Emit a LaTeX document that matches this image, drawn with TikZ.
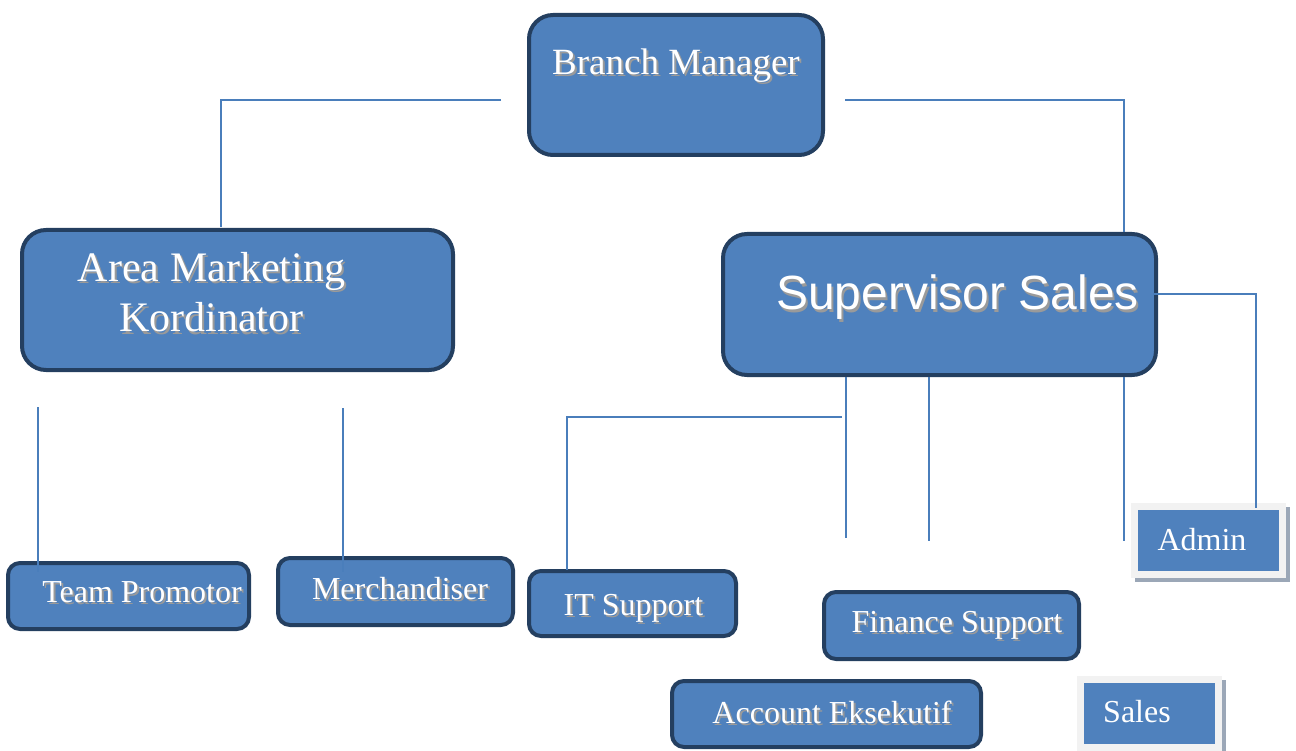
\documentclass[tikz,border=0pt]{standalone}
\usepackage{fontspec}
\setmainfont{Liberation Serif}
\setsansfont{Liberation Sans}
\definecolor{boxfill}{HTML}{4F81BD}
\definecolor{boxline}{HTML}{243F60}
\definecolor{linkblue}{HTML}{4A7EBB}
\definecolor{framegray}{HTML}{F2F2F2}
\definecolor{shadowgray}{HTML}{9BA7B7}
\definecolor{txtshade}{HTML}{9A9A9A}
\newcommand{\shadowed}[1]{\makebox[0pt][l]{\kern2pt\raisebox{-2pt}{\color{txtshade}#1}}#1}

\begin{document}
\begin{tikzpicture}[x=1pt,y=-1pt]
\useasboundingbox (0,0) rectangle (1296,751);
\tikzstyle{box}=[draw=boxline, fill=boxfill, line width=4pt, rounded corners=12pt, inner sep=0pt]
\tikzstyle{bigbox}=[box, rounded corners=24pt]
\tikzstyle{plainbox}=[draw=framegray, fill=boxfill, line width=7pt, inner sep=0pt]
\tikzstyle{shadowbox}=[fill=shadowgray, inner sep=0pt]
\tikzstyle{txt}=[text=white, inner sep=0pt, anchor=base]
\tikzstyle{link}=[draw=linkblue, line width=1.6pt]

\node[bigbox, minimum width=294pt, minimum height=140pt](bm) at (676,85){};
\node[bigbox, minimum width=431pt, minimum height=140pt](amk) at (237.5,300){};
\node[bigbox, minimum width=433pt, minimum height=141pt](ss) at (939.5,304.5){};
\node[box, minimum width=241pt, minimum height=66pt](tp) at (128.5,596){};
\node[box, minimum width=235pt, minimum height=67pt](me) at (395.5,591.5){};
\node[box, minimum width=207pt, minimum height=65pt](it) at (632.5,603.5){};
\node[box, minimum width=255pt, minimum height=67pt](fs) at (951.5,625.5){};
\node[box, minimum width=309pt, minimum height=66pt](ae) at (826.5,714){};
\node[shadowbox, minimum width=155pt, minimum height=75pt](adminsh) at (1212.5,544.5){};
\node[plainbox, minimum width=148pt, minimum height=68pt](admin) at (1208.5,540.5){};
\node[shadowbox, minimum width=145pt, minimum height=75pt](salessh) at (1153.5,717.5){};
\node[plainbox, minimum width=138pt, minimum height=68pt](sales) at (1149.5,713.5){};

\node[txt, font=\fontsize{37}{44}\selectfont](bmtext) at (676,75){\shadowed{Branch Manager}};
\node[txt, font=\fontsize{42}{50}\selectfont](amktext) at (211.5,282){\shadowed{Area Marketing}};
\node[txt, font=\fontsize{42}{50}\selectfont](amktextb) at (211.5,332){\shadowed{Kordinator}};
\node[txt, font=\sffamily\fontsize{48}{56}\selectfont](sstext) at (957.5,310){\shadowed{Supervisor Sales}};
\foreach \n/\x/\y/\t in {tptext/142/602/Team Promotor, metext/400/599/Merchandiser, ittext/633.5/615/IT Support, fstext/957/632/Finance Support, aetext/832/723/Account Eksekutif}
  {\node[txt, font=\fontsize{32}{38}\selectfont](\n) at (\x,\y){\shadowed{\t}};}
\foreach \n/\x/\y/\t in {admintext/1202/550/Admin, salestext/1137/722/Sales}
  {\node[txt, font=\fontsize{32}{38}\selectfont](\n) at (\x,\y){\t};}

\coordinate (bml) at (501,100);
\coordinate (amkin) at (221,227);
\coordinate (bmr) at (845,100);
\coordinate (ssin) at (1124,232);
\coordinate (ssr) at (1153,294);
\coordinate (adminin) at (1256,508);
\coordinate (itl) at (842,417);
\coordinate (itin) at (567,570);
\coordinate (tpup) at (38,407);
\coordinate (tpin) at (38,572);
\coordinate (meup) at (343,408);
\coordinate (mein) at (343,572);
\coordinate (ssa) at (846,377);
\coordinate (ssaend) at (846,538);
\coordinate (ssb) at (929,377);
\coordinate (ssbend) at (929,541);
\coordinate (ssc) at (1124,377);
\coordinate (sscend) at (1124,541);
\foreach \i/\j in {bml/amkin,bmr/ssin,ssr/adminin,itl/itin}{\draw[link] (\i) -| (\j);}
\foreach \i/\j in {tpup/tpin,meup/mein,ssa/ssaend,ssb/ssbend,ssc/sscend}{\draw[link] (\i) -- (\j);}
\end{tikzpicture}
\end{document}
